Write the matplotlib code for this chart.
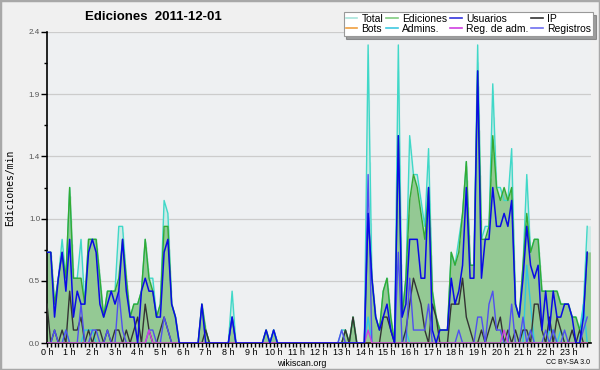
import numpy as np
import matplotlib
matplotlib.use("Agg")
import matplotlib.pyplot as plt
from matplotlib.lines import Line2D
from matplotlib.patches import Rectangle

# ---- data: edits per minute, 10-minute bins (6 per hour) ----
hour_labels = ["%d h" % h for h in range(24)]

total = [
    0.7, 0.7, 0.3, 0.5, 0.8, 0.5,
    1.2, 0.5, 0.5, 0.8, 0.3, 0.8,
    0.8, 0.8, 0.5, 0.2, 0.4, 0.4,
    0.4, 0.9, 0.9, 0.5, 0.2, 0.3,
    0.3, 0.4, 0.8, 0.5, 0.5, 0.2,
    0.3, 1.1, 1.0, 0.3, 0.2, 0.0,
    0.0, 0.0, 0.0, 0.0, 0.0, 0.3,
    0.1, 0.0, 0.0, 0.0, 0.0, 0.0,
    0.0, 0.4, 0.0, 0.0, 0.0, 0.0,
    0.0, 0.0, 0.0, 0.0, 0.1, 0.0,
    0.1, 0.0, 0.0, 0.0, 0.0, 0.0,
    0.0, 0.0, 0.0, 0.0, 0.0, 0.0,
    0.0, 0.0, 0.0, 0.0, 0.0, 0.0,
    0.1, 0.1, 0.0, 0.2, 0.0, 0.0,
    0.0, 2.3, 0.5, 0.2, 0.1, 0.4,
    0.5, 0.2, 0.0, 2.3, 0.2, 0.5,
    1.6, 1.3, 1.3, 1.1, 0.9, 1.5,
    0.4, 0.2, 0.1, 0.1, 0.1, 0.7,
    0.6, 0.8, 1.0, 1.4, 0.6, 0.6,
    2.3, 0.8, 0.9, 0.9, 2.0, 1.2,
    1.2, 1.1, 1.1, 1.5, 0.3, 0.2,
    0.6, 1.3, 0.7, 0.8, 0.8, 0.4,
    0.4, 0.4, 0.4, 0.4, 0.3, 0.3,
    0.3, 0.2, 0.2, 0.1, 0.3, 0.9,
]

ediciones = [
    0.7, 0.7, 0.3, 0.5, 0.7, 0.5,
    1.2, 0.5, 0.5, 0.5, 0.3, 0.8,
    0.8, 0.8, 0.5, 0.2, 0.4, 0.4,
    0.4, 0.5, 0.8, 0.5, 0.2, 0.3,
    0.3, 0.4, 0.8, 0.5, 0.4, 0.2,
    0.3, 0.9, 0.9, 0.3, 0.2, 0.0,
    0.0, 0.0, 0.0, 0.0, 0.0, 0.3,
    0.1, 0.0, 0.0, 0.0, 0.0, 0.0,
    0.0, 0.2, 0.0, 0.0, 0.0, 0.0,
    0.0, 0.0, 0.0, 0.0, 0.1, 0.0,
    0.1, 0.0, 0.0, 0.0, 0.0, 0.0,
    0.0, 0.0, 0.0, 0.0, 0.0, 0.0,
    0.0, 0.0, 0.0, 0.0, 0.0, 0.0,
    0.0, 0.1, 0.0, 0.2, 0.0, 0.0,
    0.0, 1.0, 0.5, 0.2, 0.1, 0.4,
    0.5, 0.2, 0.0, 1.6, 0.2, 0.5,
    1.1, 1.3, 1.2, 1.0, 0.8, 1.2,
    0.4, 0.2, 0.1, 0.1, 0.1, 0.7,
    0.6, 0.7, 1.0, 1.4, 0.6, 0.6,
    2.1, 0.8, 0.8, 0.9, 1.6, 1.2,
    1.1, 1.2, 1.1, 1.2, 0.3, 0.2,
    0.6, 1.0, 0.7, 0.8, 0.8, 0.4,
    0.4, 0.4, 0.4, 0.4, 0.3, 0.3,
    0.3, 0.2, 0.2, 0.1, 0.2, 0.7,
]

usuarios = [
    0.7, 0.7, 0.2, 0.5, 0.7, 0.4,
    0.8, 0.2, 0.4, 0.3, 0.3, 0.7,
    0.8, 0.7, 0.3, 0.2, 0.3, 0.4,
    0.3, 0.4, 0.8, 0.4, 0.2, 0.2,
    0.0, 0.4, 0.5, 0.4, 0.4, 0.2,
    0.2, 0.7, 0.8, 0.3, 0.2, 0.0,
    0.0, 0.0, 0.0, 0.0, 0.0, 0.3,
    0.0, 0.0, 0.0, 0.0, 0.0, 0.0,
    0.0, 0.2, 0.0, 0.0, 0.0, 0.0,
    0.0, 0.0, 0.0, 0.0, 0.1, 0.0,
    0.1, 0.0, 0.0, 0.0, 0.0, 0.0,
    0.0, 0.0, 0.0, 0.0, 0.0, 0.0,
    0.0, 0.0, 0.0, 0.0, 0.0, 0.0,
    0.0, 0.0, 0.0, 0.0, 0.0, 0.0,
    0.0, 1.0, 0.5, 0.2, 0.1, 0.2,
    0.3, 0.1, 0.0, 1.6, 0.2, 0.3,
    0.8, 0.8, 0.8, 0.5, 0.5, 1.2,
    0.1, 0.0, 0.1, 0.1, 0.1, 0.5,
    0.3, 0.4, 0.6, 1.2, 0.5, 0.5,
    2.1, 0.5, 0.8, 0.8, 1.2, 0.9,
    0.9, 1.0, 0.9, 1.1, 0.3, 0.2,
    0.5, 0.9, 0.6, 0.5, 0.6, 0.1,
    0.4, 0.1, 0.4, 0.2, 0.2, 0.3,
    0.3, 0.2, 0.0, 0.0, 0.2, 0.7,
]

ip = [
    0.3, 0.0, 0.1, 0.0, 0.1, 0.0,
    0.4, 0.1, 0.1, 0.2, 0.0, 0.1,
    0.0, 0.1, 0.1, 0.0, 0.1, 0.0,
    0.1, 0.1, 0.0, 0.1, 0.0, 0.1,
    0.2, 0.0, 0.3, 0.1, 0.0, 0.0,
    0.1, 0.2, 0.1, 0.0, 0.0, 0.0,
    0.0, 0.0, 0.0, 0.0, 0.0, 0.0,
    0.1, 0.0, 0.0, 0.0, 0.0, 0.0,
    0.0, 0.0, 0.0, 0.0, 0.0, 0.0,
    0.0, 0.0, 0.0, 0.0, 0.0, 0.0,
    0.0, 0.0, 0.0, 0.0, 0.0, 0.0,
    0.0, 0.0, 0.0, 0.0, 0.0, 0.0,
    0.0, 0.0, 0.0, 0.0, 0.0, 0.0,
    0.0, 0.1, 0.0, 0.2, 0.0, 0.0,
    0.0, 0.0, 0.0, 0.0, 0.0, 0.2,
    0.2, 0.1, 0.0, 0.0, 0.0, 0.1,
    0.3, 0.5, 0.4, 0.3, 0.1, 0.0,
    0.3, 0.2, 0.0, 0.0, 0.0, 0.3,
    0.3, 0.3, 0.5, 0.2, 0.1, 0.0,
    0.0, 0.1, 0.0, 0.1, 0.2, 0.1,
    0.2, 0.0, 0.1, 0.0, 0.1, 0.0,
    0.1, 0.1, 0.0, 0.3, 0.3, 0.1,
    0.0, 0.2, 0.0, 0.2, 0.1, 0.0,
    0.0, 0.1, 0.0, 0.1, 0.0, 0.0,
]

bots = [
    0.0, 0.0, 0.0, 0.0, 0.0, 0.0, 0.0, 0.0, 0.0, 0.0, 0.0, 0.0,
    0.0, 0.0, 0.0, 0.0, 0.0, 0.0, 0.0, 0.0, 0.0, 0.0, 0.0, 0.0,
    0.0, 0.0, 0.0, 0.0, 0.0, 0.0, 0.0, 0.0, 0.0, 0.0, 0.0, 0.0,
    0.0, 0.0, 0.0, 0.0, 0.0, 0.0, 0.0, 0.0, 0.0, 0.0, 0.0, 0.0,
    0.0, 0.0, 0.0, 0.0, 0.0, 0.0, 0.0, 0.0, 0.0, 0.0, 0.0, 0.0,
    0.0, 0.0, 0.0, 0.0, 0.0, 0.0, 0.0, 0.0, 0.0, 0.0, 0.0, 0.0,
    0.0, 0.0, 0.0, 0.0, 0.0, 0.0, 0.0, 0.0, 0.0, 0.0, 0.0, 0.0,
    0.0, 0.0, 0.0, 0.0, 0.0, 0.0, 0.0, 0.0, 0.0, 0.0, 0.0, 0.0,
    0.0, 0.0, 0.0, 0.0, 0.0, 0.0, 0.0, 0.0, 0.0, 0.0, 0.0, 0.0,
    0.0, 0.0, 0.0, 0.0, 0.0, 0.0, 0.0, 0.0, 0.0, 0.0, 0.0, 0.0,
    0.0, 0.0, 0.0, 0.0, 0.0, 0.0, 0.0, 0.0, 0.0, 0.0, 0.0, 0.0,
    0.0, 0.0, 0.0, 0.0, 0.0, 0.0, 0.0, 0.0, 0.0, 0.0, 0.0, 0.0,
]

admins = [
    0.0, 0.0, 0.0, 0.0, 0.0, 0.1,
    0.0, 0.0, 0.0, 0.0, 0.1, 0.1,
    0.1, 0.0, 0.0, 0.0, 0.0, 0.0,
    0.0, 0.0, 0.0, 0.0, 0.0, 0.0,
    0.0, 0.0, 0.0, 0.0, 0.0, 0.0,
    0.0, 0.0, 0.0, 0.0, 0.0, 0.0,
    0.0, 0.0, 0.0, 0.0, 0.0, 0.0,
    0.0, 0.0, 0.0, 0.0, 0.0, 0.0,
    0.0, 0.0, 0.0, 0.0, 0.0, 0.0,
    0.0, 0.0, 0.0, 0.0, 0.0, 0.0,
    0.1, 0.0, 0.0, 0.0, 0.0, 0.0,
    0.0, 0.0, 0.0, 0.0, 0.0, 0.0,
    0.0, 0.0, 0.0, 0.0, 0.0, 0.0,
    0.0, 0.0, 0.0, 0.0, 0.0, 0.0,
    0.0, 0.2, 0.0, 0.0, 0.0, 0.0,
    0.0, 0.0, 0.0, 0.0, 0.0, 0.1,
    0.0, 0.0, 0.0, 0.0, 0.0, 0.0,
    0.0, 0.0, 0.0, 0.0, 0.0, 0.0,
    0.0, 0.0, 0.0, 0.0, 0.0, 0.0,
    0.0, 0.0, 0.0, 0.0, 0.0, 0.0,
    0.0, 0.0, 0.0, 0.0, 0.0, 0.0,
    0.0, 0.6, 0.3, 0.0, 0.0, 0.0,
    0.0, 0.1, 0.1, 0.0, 0.1, 0.0,
    0.0, 0.0, 0.0, 0.0, 0.3, 0.0,
]

reg_adm = [
    0.0, 0.0, 0.0, 0.0, 0.0, 0.0, 0.0, 0.0, 0.0, 0.0, 0.0, 0.0,
    0.0, 0.0, 0.0, 0.0, 0.0, 0.0, 0.0, 0.0, 0.0, 0.0, 0.0, 0.0,
    0.0, 0.0, 0.0, 0.1, 0.0, 0.0, 0.0, 0.0, 0.0, 0.0, 0.0, 0.0,
    0.0, 0.0, 0.0, 0.0, 0.0, 0.0, 0.0, 0.0, 0.0, 0.0, 0.0, 0.0,
    0.0, 0.0, 0.0, 0.0, 0.0, 0.0, 0.0, 0.0, 0.0, 0.0, 0.0, 0.0,
    0.0, 0.0, 0.0, 0.0, 0.0, 0.0, 0.0, 0.0, 0.0, 0.0, 0.0, 0.0,
    0.0, 0.0, 0.0, 0.0, 0.0, 0.0, 0.0, 0.0, 0.0, 0.0, 0.0, 0.0,
    0.0, 0.1, 0.0, 0.0, 0.0, 0.0, 0.0, 0.0, 0.0, 0.0, 0.0, 0.0,
    0.0, 0.0, 0.0, 0.0, 0.0, 0.0, 0.0, 0.0, 0.0, 0.0, 0.0, 0.0,
    0.0, 0.0, 0.0, 0.0, 0.0, 0.0, 0.0, 0.0, 0.0, 0.0, 0.0, 0.0,
    0.0, 0.1, 0.0, 0.0, 0.0, 0.0, 0.0, 0.0, 0.0, 0.0, 0.0, 0.0,
    0.0, 0.0, 0.0, 0.0, 0.0, 0.0, 0.0, 0.0, 0.0, 0.0, 0.0, 0.0,
]

registros = [
    0.0, 0.0, 0.1, 0.0, 0.0, 0.1,
    0.0, 0.0, 0.0, 0.3, 0.0, 0.0,
    0.1, 0.1, 0.0, 0.0, 0.1, 0.0,
    0.0, 0.4, 0.1, 0.0, 0.0, 0.0,
    0.0, 0.0, 0.0, 0.1, 0.1, 0.0,
    0.0, 0.2, 0.1, 0.0, 0.0, 0.0,
    0.0, 0.0, 0.0, 0.0, 0.0, 0.0,
    0.0, 0.0, 0.0, 0.0, 0.0, 0.0,
    0.0, 0.2, 0.0, 0.0, 0.0, 0.0,
    0.0, 0.0, 0.0, 0.0, 0.0, 0.0,
    0.0, 0.0, 0.0, 0.0, 0.0, 0.0,
    0.0, 0.0, 0.0, 0.0, 0.0, 0.0,
    0.0, 0.0, 0.0, 0.0, 0.0, 0.0,
    0.1, 0.0, 0.0, 0.0, 0.0, 0.0,
    0.0, 1.3, 0.0, 0.0, 0.0, 0.0,
    0.0, 0.0, 0.0, 0.7, 0.0, 0.0,
    0.5, 0.1, 0.1, 0.1, 0.1, 0.3,
    0.0, 0.0, 0.0, 0.0, 0.0, 0.0,
    0.0, 0.1, 0.0, 0.0, 0.0, 0.0,
    0.2, 0.2, 0.0, 0.3, 0.4, 0.1,
    0.1, 0.0, 0.0, 0.3, 0.0, 0.0,
    0.2, 0.0, 0.1, 0.0, 0.0, 0.0,
    0.1, 0.0, 0.1, 0.0, 0.0, 0.1,
    0.0, 0.0, 0.0, 0.0, 0.1, 0.2,
]

legend_entries = [
    ("Total", "#a8e4dc"), ("Bots", "#f0a040"),
    ("Ediciones", "#80cc80"), ("Admins.", "#40c8e0"),
    ("Usuarios", "#3333dd"), ("Reg. de adm.", "#d040e0"),
    ("IP", "#333333"), ("Registros", "#7070f0"),
]

# ---- figure ----
plt.rcParams["font.family"] = ["Liberation Sans", "DejaVu Sans"]

XMAX, YMAX = 24.0, 2.4
FILL_EDIC = "#94c994"
FILL_TOTAL = "#cdeae6"

fig = plt.figure(figsize=(6.0, 3.7), dpi=100)
fig.patch.set_facecolor("#f0f0f0")
ax = fig.add_axes([47 / 600, 27 / 370, 544 / 600, 311 / 370])
ax.set_facecolor("#eef0f2")
ax.yaxis.grid(True, color="#cccccc", lw=0.9)
ax.set_axisbelow(True)

x = np.arange(len(total)) / 6.0
tot_arr = np.asarray(total, dtype=float)
edi_arr = np.asarray(ediciones, dtype=float)

# filled areas under Total and Ediciones
ax.fill_between(x, tot_arr, 0.0, facecolor=FILL_TOTAL, edgecolor="none", zorder=2)
ax.fill_between(x, edi_arr, 0.0, facecolor=FILL_EDIC, edgecolor="none", zorder=2.1)
# the same areas again as dense vertical strokes (one per pixel column)
cols = np.linspace(0, XMAX, 545)
ax.vlines(cols, 0.0, np.interp(cols, x, tot_arr), colors=FILL_TOTAL, lw=1.0, zorder=2.2)
ax.vlines(cols, 0.0, np.interp(cols, x, edi_arr), colors=FILL_EDIC, lw=1.0, zorder=2.3)

ax.plot(x, tot_arr, color="#40d8c8", lw=1.0, zorder=3)
ax.plot(x, edi_arr, color="#33aa33", lw=1.0, zorder=4)
ax.plot(x, admins, color="#30c8e0", lw=1.0, zorder=5)
ax.plot(x, ip, color="#333333", lw=1.0, zorder=6)
ax.plot(x, registros, color="#5050f0", lw=1.0, zorder=7)
ax.plot(x, reg_adm, color="#d040e0", lw=1.0, zorder=8)
ax.plot(x, bots, color="#f0a040", lw=1.0, zorder=8)
ax.plot(x, usuarios, color="#0a0ae6", lw=1.1, zorder=9)

ax.set_xlim(0, XMAX)
ax.set_ylim(0, YMAX)
yt = np.linspace(0, YMAX, 6)
ax.set_yticks(yt)
ax.set_yticklabels(["%.1f" % v for v in yt], fontsize=5.8, color="#555555")
ax.set_yticks((yt[:-1] + yt[1:]) / 2, minor=True)
ax.set_xticks(np.arange(24))
ax.set_xticklabels(hour_labels, fontsize=6.5)
ax.set_xticks(np.arange(0, 24, 1 / 6.0), minor=True)
ax.tick_params(axis="x", which="both", direction="out", length=3, width=1, pad=0.5)
ax.tick_params(axis="y", which="major", direction="out", length=4, width=1, pad=1)
ax.tick_params(axis="y", which="minor", direction="out", length=2, width=1)
for s in ("top", "right"):
    ax.spines[s].set_visible(False)
ax.spines["left"].set_linewidth(1.2)
ax.spines["bottom"].set_linewidth(1.2)

fig.text(10 / 600, 1 - 188 / 370, "Ediciones/min", family="DejaVu Sans Mono",
         fontsize=7, rotation=90, ha="center", va="center")
fig.text(153 / 600, 1 - 17 / 370, "Ediciones  2011-12-01", ha="center",
         va="center", fontsize=9.5, fontweight="bold")
fig.text(302 / 600, 1 - 363 / 370, "wikiscan.org", ha="center", va="center", fontsize=6.4)
fig.text(590 / 600, 1 - 363 / 370, "CC BY-SA 3.0", ha="right", va="center", fontsize=5)

handles = [Line2D([0], [0], color=c, lw=1.2) for _, c in legend_entries]
labels = [l for l, _ in legend_entries]
leg = fig.legend(handles, labels, ncol=4, loc="upper right",
                 bbox_to_anchor=(593 / 600, 1 - 12 / 370), fontsize=7.5,
                 frameon=True, fancybox=False, shadow=True,
                 handlelength=1.1, handletextpad=0.4, columnspacing=0.3,
                 labelspacing=0.0, borderpad=0.2, borderaxespad=0)
leg.get_frame().set_edgecolor("#999999")
leg.get_frame().set_facecolor("white")
leg.get_frame().set_linewidth(0.8)

fig.patches.append(Rectangle((0, 0), 1, 1, transform=fig.transFigure,
                             fill=False, edgecolor="#a8a8a8", lw=2.5, zorder=10))

fig.savefig("out.png", dpi=100, facecolor=fig.get_facecolor())
